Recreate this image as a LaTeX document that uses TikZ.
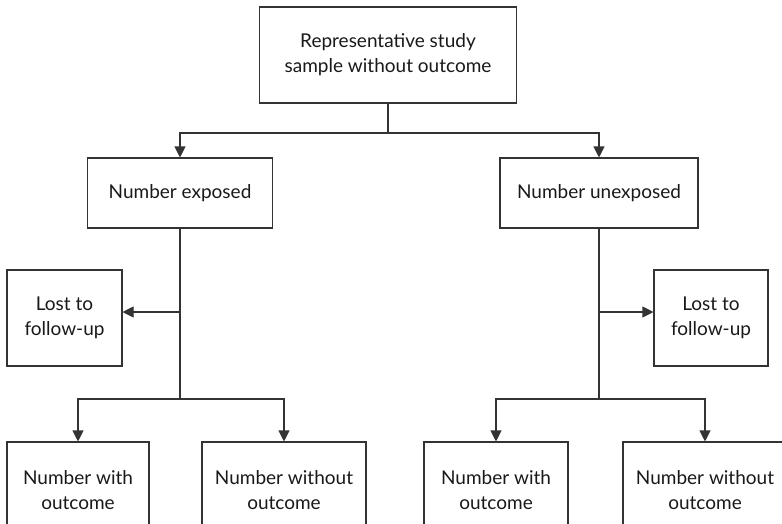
\documentclass[tikz,border=0pt]{standalone}
\usepackage{fontspec}
\setmainfont{Lato}
\usetikzlibrary{arrows.meta,positioning}

\definecolor{linegray}{HTML}{333333}

\tikzset{
  box/.style={rectangle,draw=linegray,line width=1.1pt,align=center,inner sep=0pt,
    font=\fontsize{19}{25}\selectfont,text=black!90},
  link/.style={draw=linegray,line width=1.1pt},
  arr/.style={link,-{Triangle[length=11pt,width=11pt]}}
}

\begin{document}
\begin{tikzpicture}[x=1pt,y=-1pt]
		\useasboundingbox (0,0) rectangle (782,523);
		\clip (0,0) rectangle (782,523);

		% boxes
		\node[box,minimum width=257,minimum height=96] (sample) at (388,55) {Representative study\\sample without outcome};
		\node[box,minimum width=185,minimum height=70] (exposed) at (180,193) {Number exposed};
		\node[box,minimum width=198,minimum height=70] (unexposed) at (599,193) {Number unexposed};
		\node[box,minimum width=115,minimum height=96] (lostA) at (64.5,318) {Lost to\\follow-up};
		\node[box,minimum width=114,minimum height=96] (lostB) at (711,318) {Lost to\\follow-up};

		% bottom boxes, cut off below
		\node[box,minimum width=142,minimum height=96] (withA) at (78,490) {Number with\\outcome};
		\node[box,minimum width=164,minimum height=96] (withoutA) at (284,490) {Number without\\outcome};
		\node[box,minimum width=144,minimum height=96] (withB) at (496,490) {Number with\\outcome};
		\node[box,minimum width=164,minimum height=96] (withoutB) at (705,490) {Number without\\outcome};

		% split levels
		\coordinate (splitTop) at (0,133);
		\coordinate (splitBot) at (0,399);
		\coordinate (lostLevel) at (0,312);

		% sample -> exposed / unexposed
		\draw[link] (sample.south) -- (sample.south |- splitTop);
		\draw[arr] (sample.south |- splitTop) -| (exposed.north);
		\draw[arr] (sample.south |- splitTop) -| (unexposed.north);

		% stems
		\draw[link] (exposed.south) -- (exposed.south |- splitBot);
		\draw[link] (unexposed.south) -- (unexposed.south |- splitBot);

		% lost to follow-up
		\draw[arr] (exposed.south |- lostLevel) -- (lostA.east |- lostLevel);
		\draw[arr] (unexposed.south |- lostLevel) -- (lostB.west |- lostLevel);

		% outcome branches
		\draw[arr] (exposed.south |- splitBot) -| (withA.north);
		\draw[arr] (exposed.south |- splitBot) -| (withoutA.north);
		\draw[arr] (unexposed.south |- splitBot) -| (withB.north);
		\draw[arr] (unexposed.south |- splitBot) -| (withoutB.north);
\end{tikzpicture}
\end{document}
